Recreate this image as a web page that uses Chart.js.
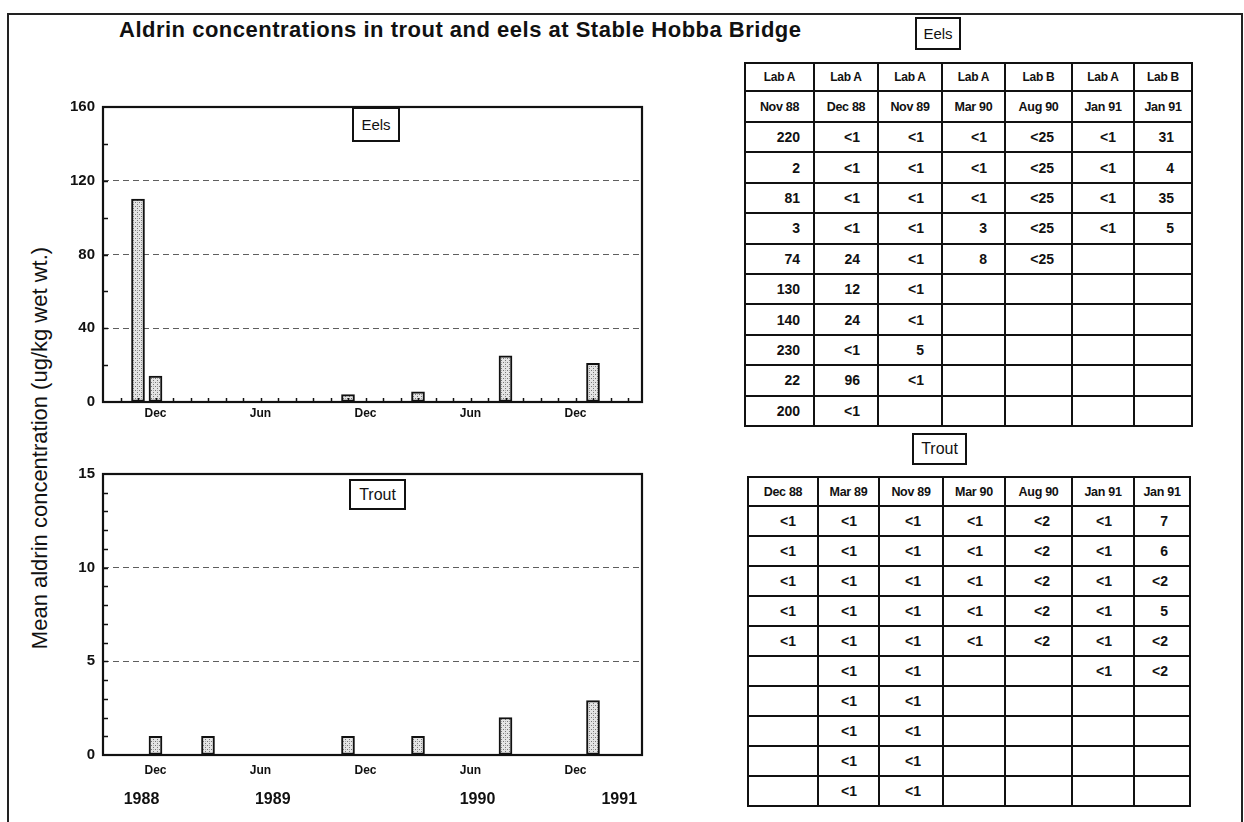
<!DOCTYPE html>
<html>
<head>
<meta charset="utf-8">
<script src="https://cdn.jsdelivr.net/npm/chart.js@4/dist/chart.umd.min.js"></script>
<style>
  html, body { margin: 0; padding: 0; background: #fff; }
  body { width: 1244px; height: 822px; position: relative; overflow: hidden;
         font-family: "Liberation Sans", Arial, sans-serif; color: #111; }
  #frame { position: absolute; left: 7px; top: 13px; width: 1236px; height: 840px;
           border: 2px solid #222; box-sizing: border-box; }
  #title { position: absolute; left: 119px; top: 17px; font-weight: bold; font-size: 22px;
           white-space: nowrap; letter-spacing: 0.5px; }
  #ytitle { position: absolute; left: 40px; top: 448px; font-size: 22px; white-space: nowrap;
            transform: translate(-50%, -50%) rotate(-90deg); }
  .panel { position: absolute; }
  .panel canvas { display: block; }
  .tag { position: absolute; border: 2px solid #111; background: #fff; box-sizing: border-box;
         display: flex; align-items: center; justify-content: center; }
  table.results { position: absolute; border-collapse: collapse; table-layout: fixed; }
  table.results td { border: 2px solid #111; font-weight: bold; font-size: 14px; text-align: right;
                     padding: 0 17px 0 0; box-sizing: border-box; white-space: nowrap; }
  table.results td.head { text-align: center; padding: 0; font-size: 12px; letter-spacing: -0.3px; }
  table.results td.first { padding-right: 13px; }
  #troutTable td { padding-right: 21px; }
  #troutTable td.head { padding: 0; }
</style>
</head>
<body>
<div id="frame"></div>
<div id="title">Aldrin concentrations in trout and eels at Stable Hobba Bridge</div>
<div id="ytitle">Mean aldrin concentration (ug/kg wet wt.)</div>

<div class="panel" style="left:55px; top:90px;"><canvas id="eelChart" width="600" height="345"></canvas></div>
<div class="panel" style="left:55px; top:457px;"><canvas id="troutChart" width="600" height="365"></canvas></div>

<div class="tag" style="left:352px; top:107px; width:48px; height:35px; font-size:15px;">Eels</div>
<div class="tag" style="left:349px; top:479px; width:57px; height:31px; font-size:16px;">Trout</div>
<div class="tag" style="left:915px; top:17px; width:46px; height:33px; font-size:15px;">Eels</div>
<div class="tag" style="left:912px; top:433px; width:55px; height:32px; font-size:16px;">Trout</div>

<table class="results" id="eelTable" style="left:744px; top:62px;"></table>
<table class="results" id="troutTable" style="left:747px; top:476px;"></table>

<script>
// ---- data ----
// months are counted from January 1988 (Jan 1988 = 0)
const monthNames = ['Jan', 'Feb', 'Mar', 'Apr', 'May', 'Jun', 'Jul', 'Aug', 'Sep', 'Oct', 'Nov', 'Dec'];
const labelledMonths = ['Dec', 'Jun'];

const eelSampleMonths = [10, 11, 22, 26, 31, 36];     // Nov 88, Dec 88, Nov 89, Mar 90, Aug 90, Jan 91
const eelMeans = [110, 14, 4, 5.5, 25, 21];

const troutSampleMonths = [11, 14, 22, 26, 31, 36];   // Dec 88, Mar 89, Nov 89, Mar 90, Aug 90, Jan 91
const troutMeans = [1, 1, 1, 1, 2, 2.9];

const yearLabels = ['1988', '1989', '1990', '1991'];
const yearLabelMonths = [10.2, 17.7, 29.4, 37.5];

const eelLabs = ['Lab A', 'Lab A', 'Lab A', 'Lab A', 'Lab B', 'Lab A', 'Lab B'];
const eelDates = ['Nov 88', 'Dec 88', 'Nov 89', 'Mar 90', 'Aug 90', 'Jan 91', 'Jan 91'];
const eelResults = [
  ['220', '2', '81', '3', '74', '130', '140', '230', '22', '200'],
  ['<1', '<1', '<1', '<1', '24', '12', '24', '<1', '96', '<1'],
  ['<1', '<1', '<1', '<1', '<1', '<1', '<1', '5', '<1'],
  ['<1', '<1', '<1', '3', '8'],
  ['<25', '<25', '<25', '<25', '<25'],
  ['<1', '<1', '<1', '<1'],
  ['31', '4', '35', '5']
];

const troutDates = ['Dec 88', 'Mar 89', 'Nov 89', 'Mar 90', 'Aug 90', 'Jan 91', 'Jan 91'];
const troutResults = [
  ['<1', '<1', '<1', '<1', '<1'],
  ['<1', '<1', '<1', '<1', '<1', '<1', '<1', '<1', '<1', '<1'],
  ['<1', '<1', '<1', '<1', '<1', '<1', '<1', '<1', '<1', '<1'],
  ['<1', '<1', '<1', '<1', '<1'],
  ['<2', '<2', '<2', '<2', '<2'],
  ['<1', '<1', '<1', '<1', '<1', '<1'],
  ['7', '6', '<2', '5', '<2', '<2']
];

// ---- shared look ----
const FONT = '"Liberation Sans", Arial, sans-serif';
Chart.defaults.font.family = FONT;
Chart.defaults.color = '#111';

function stipple() {
  const c = document.createElement('canvas');
  c.width = 4; c.height = 4;
  const g = c.getContext('2d');
  g.fillStyle = '#e4e4e4'; g.fillRect(0, 0, 4, 4);
  g.fillStyle = '#777'; g.fillRect(0, 0, 1, 1); g.fillRect(2, 2, 1, 1);
  g.fillStyle = '#aaa'; g.fillRect(2, 0, 1, 1);
  return g.createPattern(c, 'repeat');
}

// box round the plot, inward minor ticks and the year row
const plotFrame = {
  id: 'plotFrame',
  afterDatasetsDraw(chart, args, opts) {
    const { ctx, chartArea: a, scales: { x, y } } = chart;
    ctx.save();
    ctx.strokeStyle = '#111';
    ctx.lineWidth = 1.5;
    for (let v = y.min + opts.minorY; v < y.max; v += opts.minorY) {
      const py = Math.round(y.getPixelForValue(v)) + 0.5;
      ctx.beginPath(); ctx.moveTo(a.left, py); ctx.lineTo(a.left + 5, py); ctx.stroke();
    }
    if (opts.monthTicks) {
      for (let m = Math.floor(x.min) + 1; m <= Math.floor(x.max); m++) {
        const px = Math.round(x.getPixelForValue(m)) + 0.5;
        ctx.beginPath(); ctx.moveTo(px, a.bottom); ctx.lineTo(px, a.bottom - 4); ctx.stroke();
      }
    }
    ctx.lineWidth = 2.2;
    ctx.strokeRect(a.left, a.top, a.right - a.left, a.bottom - a.top);
    if (opts.years) {
      ctx.fillStyle = '#111';
      ctx.font = 'bold 16px ' + FONT;
      ctx.textAlign = 'center';
      ctx.textBaseline = 'middle';
      yearLabels.forEach((t, i) => ctx.fillText(t, x.getPixelForValue(yearLabelMonths[i]), a.bottom + 45));
    }
    ctx.restore();
  }
};

function makeChart(id, months, values, yMax, yStep, minorY, xHeight, xPad, extra) {
  return new Chart(document.getElementById(id), {
    type: 'bar',
    data: {
      datasets: [{
        data: months.map((m, i) => ({ x: m, y: values[i] })),
        backgroundColor: stipple(),
        borderColor: '#111',
        borderWidth: 2,
        borderSkipped: false,
        barThickness: 13
      }]
    },
    options: {
      responsive: false,
      animation: false,
      layout: { padding: { top: 10, right: 13, left: 0, bottom: 0 } },
      plugins: {
        legend: { display: false },
        tooltip: { enabled: false },
        plotFrame: Object.assign({ minorY }, extra)
      },
      scales: {
        x: {
          type: 'linear',
          min: 8,
          max: 38.8,
          offset: false,
          grid: { display: false, drawTicks: false },
          border: { display: false },
          ticks: {
            stepSize: 1,
            autoSkip: false,
            maxRotation: 0,
            padding: xPad,
            font: { size: 12, weight: 'bold' },
            callback: v => {
              if (!Number.isInteger(v)) return '';
              const name = monthNames[((v % 12) + 12) % 12];
              return labelledMonths.includes(name) ? name : '';
            }
          },
          afterFit: s => { s.height = xHeight; }
        },
        y: {
          min: 0,
          max: yMax,
          grid: {
            drawTicks: false,
            lineWidth: 1,
            color: c => (c.tick.value === 0 || c.tick.value === yMax) ? 'rgba(0,0,0,0)' : 'rgba(40,40,40,0.75)'
          },
          border: { display: false, dash: [6, 4] },
          ticks: { stepSize: yStep, padding: 8, font: { size: 15, weight: 'bold' } },
          afterFit: s => { s.width = 48; }
        }
      }
    },
    plugins: [plotFrame]
  });
}

makeChart('eelChart', eelSampleMonths, eelMeans, 160, 40, 20, 33, 4, { monthTicks: true, years: false });
makeChart('troutChart', troutSampleMonths, troutMeans, 15, 5, 1, 67, 8, { monthTicks: false, years: true });

// ---- result tables ----
function buildTable(id, headRows, columns, colWidths, headHeights, rowHeight, rowCount) {
  const t = document.getElementById(id);
  const cg = document.createElement('colgroup');
  colWidths.forEach(w => { const c = document.createElement('col'); c.style.width = w + 'px'; cg.appendChild(c); });
  t.appendChild(cg);
  t.style.width = colWidths.reduce((a, b) => a + b, 0) + 'px';
  headRows.forEach((row, r) => {
    const tr = document.createElement('tr');
    tr.style.height = headHeights[r] + 'px';
    row.forEach(txt => {
      const td = document.createElement('td');
      td.className = 'head';
      if (r === headRows.length - 1) td.style.fontSize = '12.5px';
      td.textContent = txt;
      tr.appendChild(td);
    });
    t.appendChild(tr);
  });
  for (let r = 0; r < rowCount; r++) {
    const tr = document.createElement('tr');
    tr.style.height = rowHeight + 'px';
    columns.forEach((col, c) => {
      const td = document.createElement('td');
      if (c === 0) td.className = 'first';
      td.textContent = col[r] !== undefined ? col[r] : '';
      tr.appendChild(td);
    });
    t.appendChild(tr);
  }
}

buildTable('eelTable', [eelLabs, eelDates], eelResults, [69, 64, 64, 63, 67, 62, 58], [28, 31], 30.4, 10);
buildTable('troutTable', [troutDates], troutResults, [70, 61, 64, 62, 67, 62, 56], [29], 30, 10);
</script>
</body>
</html>
